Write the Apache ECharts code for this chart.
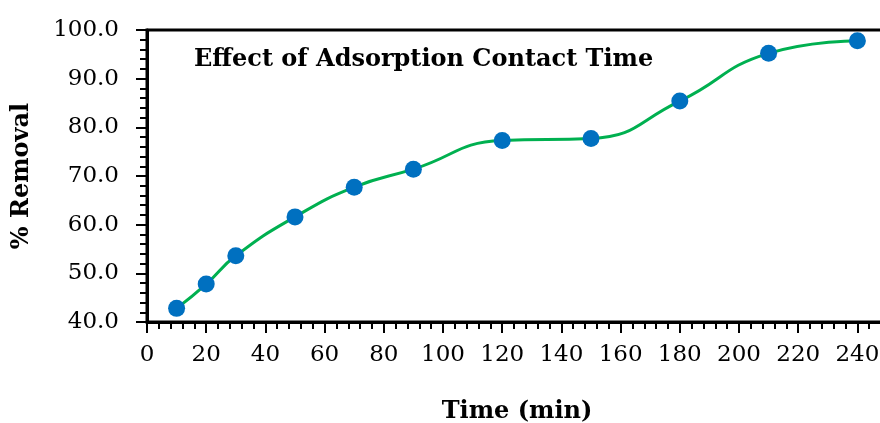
<!DOCTYPE html>
<html>
<head>
<meta charset="utf-8">
<script src="https://cdn.jsdelivr.net/npm/echarts@6/dist/echarts.min.js"></script>
<style>
  html, body { margin: 0; padding: 0; background: #fff; }
  #chart { width: 880px; height: 423px; }
</style>
</head>
<body>
<div id="chart"></div>
<script>
// contact time (min) and removal (%)
const times = [10, 20, 30, 50, 70, 90, 120, 150, 180, 210, 240];
const removal = [42.8, 47.8, 53.6, 61.6, 67.7, 71.4, 77.3, 77.7, 85.4, 95.2, 97.8];
const titleText = 'Effect of Adsorption Contact Time';

const FONT = '"DejaVu Serif", "Liberation Serif", serif';

const myChart = echarts.init(document.getElementById('chart'));
myChart.setOption({
	animation: false,
	title: {
		text: titleText,
		left: 189,
		top: 43,
		textStyle: {
			fontFamily: FONT,
			fontWeight: 'bold',
			fontSize: 24,
			color: '#000'
		}
	},
	grid: {
		left: 147,
		right: -7,
		top: 30,
		bottom: 101,
		outerBoundsMode: 'none',
		containLabel: false,
		show: true,
		borderColor: '#000',
		borderWidth: 3
	},
	xAxis: {
		type: 'value',
		min: 0,
		max: 250,
		interval: 20,
		name: 'Time (min)',
		nameLocation: 'middle',
		nameGap: 78,
		nameTextStyle: {
			fontFamily: FONT,
			fontWeight: 'bold',
			fontSize: 24,
			color: '#000'
		},
		axisLine: { show: true, lineStyle: { color: '#000', width: 3 } },
		axisTick: { show: true, length: 11, lineStyle: { color: '#000', width: 2 } },
		minorTick: { show: true, splitNumber: 5, length: 7, lineStyle: { color: '#000', width: 2 } },
		splitLine: { show: false },
		axisLabel: {
			margin: 22,
			fontFamily: FONT,
			fontSize: 23,
			color: '#000',
			showMaxLabel: false,
			formatter: function (v) {
				return v > 240 ? '' : String(v);
			}
		}
	},
	yAxis: {
		type: 'value',
		min: 40,
		max: 100,
		interval: 10,
		name: '% Removal',
		nameLocation: 'middle',
		nameGap: 113,
		nameTextStyle: {
			fontFamily: FONT,
			fontWeight: 'bold',
			fontSize: 24,
			color: '#000'
		},
		axisLine: { show: true, lineStyle: { color: '#000', width: 3 } },
		axisTick: { show: true, length: 11, lineStyle: { color: '#000', width: 2 } },
		minorTick: { show: true, splitNumber: 5, length: 7, lineStyle: { color: '#000', width: 2 } },
		splitLine: { show: false },
		axisLabel: {
			margin: 28,
			fontFamily: FONT,
			fontSize: 23,
			color: '#000',
			formatter: function (v) {
				return v.toFixed(1);
			}
		}
	},
	series: [
		{
			type: 'line',
			data: times.map(function (t, i) {
				return [t, removal[i]];
			}),
			smooth: 0.5,
			symbol: 'circle',
			symbolSize: 17,
			lineStyle: { color: '#00B050', width: 3 },
			itemStyle: { color: '#0070C0' }
		}
	]
});
</script>
</body>
</html>
